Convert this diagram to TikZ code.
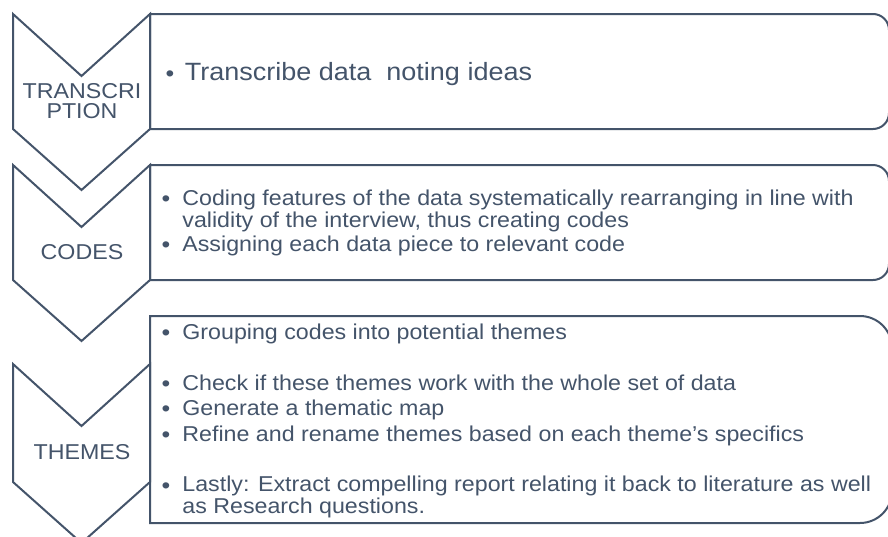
\documentclass[tikz,border=0pt]{standalone}
\usepackage{fontspec}
\setmainfont[FakeStretch=1.08]{Liberation Sans}
\definecolor{slate}{HTML}{44546A}
\newcommand{\blt}{\raisebox{-1.5pt}{\fontsize{23}{23}\selectfont\textbullet}}

\begin{document}
\begin{tikzpicture}[x=1pt,y=-1pt,
	frame/.style={draw=slate,line width=2pt},
	stage/.style={text=slate,font=\fontsize{21.5}{20}\selectfont,align=center,inner sep=0pt},
	entry/.style={anchor=base west,text=slate,font=\fontsize{21.5}{21.5}\selectfont,inner sep=0pt}]
	\useasboundingbox (0,0) rectangle (888,536);

	% boxes, rounded on the right only
	\draw[frame] (150,70) -- (150,14) -- (600,14) [rounded corners=16] -- (889,14) -- (889,129) -- (600,129) [sharp corners] -- (150,129) -- cycle;
	\draw[frame] (150,220) -- (150,165) -- (600,165) [rounded corners=16] -- (889,165) -- (889,280) -- (600,280) [sharp corners] -- (150,280) -- cycle;
	\draw[frame] (150,420) -- (150,316) -- (600,316) [rounded corners=32] -- (892,316) -- (892,523) -- (600,523) [sharp corners] -- (150,523) -- cycle;

	% chevrons
	\foreach \t/\b in {14/129,165/280,364/482} {
	     \filldraw[frame,fill=white] (13,\t) -- (81.5,\t+62) -- (150,\t) -- (150,\b) -- (81.5,\b+61) -- (13,\b) -- cycle;
	}

	\node[stage] (transcr) at (82,101.3) {TRANSCRI\\PTION};
	\node[stage,anchor=base] (codes) at (82,259) {CODES};
	\node[stage,anchor=base] (themes) at (82,459) {THEMES};

	% texts
	\node[entry,font=\fontsize{25}{25}\selectfont] (tr1) at (165.5,80) {\blt\hspace{10.5pt}Transcribe data\ \ noting ideas};

	\node[entry] (co1) at (161.5,205) {\begin{tabular}[t]{@{}l@{}l@{}}\blt\hspace{12pt} & Coding features of the data systematically rearranging in line with\\ & validity of the interview, thus creating codes\end{tabular}};
	\node[entry] (co2) at (161.5,251) {\blt\hspace{12pt}Assigning each data piece to relevant code};

	\node[entry] (th1) at (161.5,339) {\blt\hspace{12pt}Grouping codes into potential themes};
	\node[entry] (th2) at (161.5,390) {\blt\hspace{12pt}Check if these themes work with the whole set of data};
	\node[entry] (th3) at (161.5,415) {\blt\hspace{12pt}Generate a thematic map};
	\node[entry] (th4) at (161.5,441) {\blt\hspace{12pt}Refine and rename themes based on each theme’s specifics};
	\node[entry] (th5) at (161.5,491.5) {\begin{tabular}[t]{@{}l@{}l@{}}\blt\hspace{12pt} & Lastly: Extract compelling report relating it back to literature as well\\ & as Research questions.\end{tabular}};
\end{tikzpicture}
\end{document}
